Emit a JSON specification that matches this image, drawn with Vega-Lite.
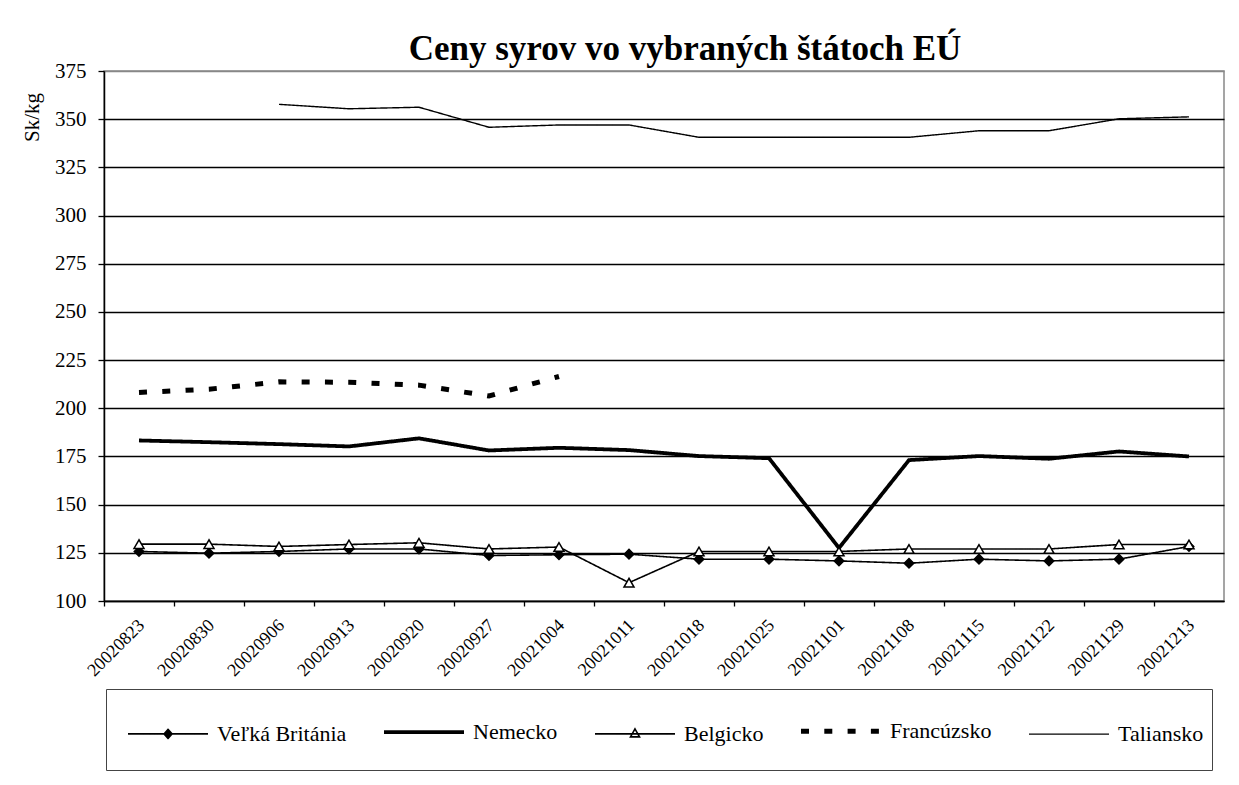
{
  "$schema": "https://vega.github.io/schema/vega-lite/v6.json",
  "width": 1120,
  "height": 530,
  "autosize": {"type": "none"},
  "padding": {"left": 104, "top": 71, "right": 15, "bottom": 184},
  "background": "white",
  "title": {
    "text": "Ceny syrov vo vybraných štátoch EÚ",
    "font": "Liberation Serif",
    "fontSize": 35,
    "fontWeight": "bold",
    "color": "black",
    "anchor": "middle",
    "frame": "group",
    "offset": 14,
    "baseline": "alphabetic",
    "dx": 21,
    "dy": 49
  },
  "data": {
    "values": [
      {"date": "20020823", "country": "Veľká Británia", "price": 125.7},
      {"date": "20020830", "country": "Veľká Británia", "price": 124.8},
      {"date": "20020906", "country": "Veľká Británia", "price": 125.7},
      {"date": "20020913", "country": "Veľká Británia", "price": 127},
      {"date": "20020920", "country": "Veľká Británia", "price": 127},
      {"date": "20020927", "country": "Veľká Británia", "price": 123.6},
      {"date": "20021004", "country": "Veľká Británia", "price": 124},
      {"date": "20021011", "country": "Veľká Británia", "price": 124.3},
      {"date": "20021018", "country": "Veľká Británia", "price": 121.7},
      {"date": "20021025", "country": "Veľká Británia", "price": 121.7},
      {"date": "20021101", "country": "Veľká Británia", "price": 120.8},
      {"date": "20021108", "country": "Veľká Británia", "price": 119.6},
      {"date": "20021115", "country": "Veľká Británia", "price": 121.7},
      {"date": "20021122", "country": "Veľká Británia", "price": 120.8},
      {"date": "20021129", "country": "Veľká Británia", "price": 121.7},
      {"date": "20021213", "country": "Veľká Británia", "price": 128.3},
      {"date": "20020823", "country": "Nemecko", "price": 183.3},
      {"date": "20020830", "country": "Nemecko", "price": 182.4},
      {"date": "20020906", "country": "Nemecko", "price": 181.4},
      {"date": "20020913", "country": "Nemecko", "price": 180.2},
      {"date": "20020920", "country": "Nemecko", "price": 184.4},
      {"date": "20020927", "country": "Nemecko", "price": 178.1},
      {"date": "20021004", "country": "Nemecko", "price": 179.5},
      {"date": "20021011", "country": "Nemecko", "price": 178.3},
      {"date": "20021018", "country": "Nemecko", "price": 175.2},
      {"date": "20021025", "country": "Nemecko", "price": 174.1},
      {"date": "20021101", "country": "Nemecko", "price": 127.5},
      {"date": "20021108", "country": "Nemecko", "price": 173.1},
      {"date": "20021115", "country": "Nemecko", "price": 175.2},
      {"date": "20021122", "country": "Nemecko", "price": 173.8},
      {"date": "20021129", "country": "Nemecko", "price": 177.6},
      {"date": "20021213", "country": "Nemecko", "price": 175},
      {"date": "20020823", "country": "Belgicko", "price": 129.5},
      {"date": "20020830", "country": "Belgicko", "price": 129.5},
      {"date": "20020906", "country": "Belgicko", "price": 128.3},
      {"date": "20020913", "country": "Belgicko", "price": 129.3},
      {"date": "20020920", "country": "Belgicko", "price": 130.2},
      {"date": "20020927", "country": "Belgicko", "price": 127},
      {"date": "20021004", "country": "Belgicko", "price": 128},
      {"date": "20021011", "country": "Belgicko", "price": 109.5},
      {"date": "20021018", "country": "Belgicko", "price": 125.7},
      {"date": "20021025", "country": "Belgicko", "price": 125.7},
      {"date": "20021101", "country": "Belgicko", "price": 125.7},
      {"date": "20021108", "country": "Belgicko", "price": 127},
      {"date": "20021115", "country": "Belgicko", "price": 127},
      {"date": "20021122", "country": "Belgicko", "price": 127},
      {"date": "20021129", "country": "Belgicko", "price": 129.3},
      {"date": "20021213", "country": "Belgicko", "price": 129.3},
      {"date": "20020823", "country": "Francúzsko", "price": 208.2},
      {"date": "20020830", "country": "Francúzsko", "price": 209.9},
      {"date": "20020906", "country": "Francúzsko", "price": 213.7},
      {"date": "20020913", "country": "Francúzsko", "price": 213.5},
      {"date": "20020920", "country": "Francúzsko", "price": 212},
      {"date": "20020927", "country": "Francúzsko", "price": 206.4},
      {"date": "20021004", "country": "Francúzsko", "price": 216.5},
      {"date": "20020906", "country": "Taliansko", "price": 357.7},
      {"date": "20020913", "country": "Taliansko", "price": 355.4},
      {"date": "20020920", "country": "Taliansko", "price": 356.2},
      {"date": "20020927", "country": "Taliansko", "price": 345.8},
      {"date": "20021004", "country": "Taliansko", "price": 347},
      {"date": "20021011", "country": "Taliansko", "price": 347},
      {"date": "20021018", "country": "Taliansko", "price": 340.6},
      {"date": "20021025", "country": "Taliansko", "price": 340.6},
      {"date": "20021101", "country": "Taliansko", "price": 340.6},
      {"date": "20021108", "country": "Taliansko", "price": 340.6},
      {"date": "20021115", "country": "Taliansko", "price": 344},
      {"date": "20021122", "country": "Taliansko", "price": 344},
      {"date": "20021129", "country": "Taliansko", "price": 350.2},
      {"date": "20021213", "country": "Taliansko", "price": 351.2}
    ]
  },
  "encoding": {
    "x": {
      "field": "date",
      "type": "nominal",
      "sort": null,
      "scale": {"type": "point", "padding": 0.5},
      "axis": {
        "title": null,
        "labelAngle": -45,
        "labelFont": "Liberation Serif",
        "labelFontSize": 18,
        "labelColor": "black",
        "labelPadding": 10,
        "tickOffset": -35,
        "labelOffset": 31,
        "tickSize": 5,
        "tickColor": "black",
        "tickWidth": 1.3,
        "domainColor": "black",
        "domainWidth": 1.5,
        "grid": false
      }
    },
    "y": {
      "field": "price",
      "type": "quantitative",
      "scale": {"domain": [100, 375], "nice": false, "zero": false},
      "axis": {
        "values": [100, 125, 150, 175, 200, 225, 250, 275, 300, 325, 350, 375],
        "title": "Sk/kg",
        "titleFont": "Liberation Serif",
        "titleFontSize": 21,
        "titleFontWeight": "normal",
        "titleColor": "black",
        "titleX": -72,
        "titleY": 46,
        "titleAngle": -90,
        "titleAlign": "center",
        "titleBaseline": "middle",
        "labelFont": "Liberation Serif",
        "labelFontSize": 21,
        "labelColor": "black",
        "labelPadding": 12,
        "tickSize": 6,
        "tickColor": "black",
        "tickWidth": 1.3,
        "domainColor": "black",
        "domainWidth": 1.5,
        "grid": true,
        "gridColor": {"condition": {"test": "datum.value === 375", "value": "#888888"}, "value": "black"},
        "gridWidth": 1.4,
        "gridOpacity": 1
      }
    }
  },
  "layer": [
    {
      "mark": {"type": "line", "stroke": "black", "strokeCap": "butt"},
      "encoding": {
        "strokeDash": {
          "field": "country",
          "type": "nominal",
          "scale": {
            "domain": ["Veľká Británia", "Nemecko", "Belgicko", "Francúzsko", "Taliansko"],
            "range": [[1, 0], [1, 0], [1, 0], [8, 15.3], [1, 0]]
          },
          "legend": null
        },
        "strokeWidth": {
          "field": "country",
          "type": "nominal",
          "scale": {
            "type": "ordinal",
            "domain": ["Veľká Británia", "Nemecko", "Belgicko", "Francúzsko", "Taliansko"],
            "range": [1.6, 3.8, 1.6, 5, 1.4]
          },
          "legend": null
        }
      }
    },
    {
      "transform": [{"filter": {"field": "country", "oneOf": ["Veľká Británia", "Belgicko"]}}],
      "mark": {"type": "point", "filled": true, "stroke": "black", "strokeWidth": 1.5, "opacity": 1},
      "encoding": {
        "shape": {
          "field": "country",
          "type": "nominal",
          "scale": {"domain": ["Veľká Británia", "Belgicko"], "range": ["diamond", "triangle-up"]},
          "legend": null
        },
        "fill": {
          "field": "country",
          "type": "nominal",
          "scale": {"domain": ["Veľká Británia", "Belgicko"], "range": ["black", "white"]},
          "legend": null
        },
        "size": {
          "field": "country",
          "type": "nominal",
          "scale": {"type": "ordinal", "domain": ["Veľká Británia", "Belgicko"], "range": [90, 100]},
          "legend": null
        }
      }
    },
    {
      "mark": {"type": "point", "filled": false, "stroke": "black", "color": "black", "opacity": 0},
      "encoding": {
        "shape": {
          "field": "country",
          "type": "nominal",
          "scale": {
            "domain": ["Veľká Británia", "Nemecko", "Belgicko", "Francúzsko", "Taliansko"],
            "range": [
              "M-0.635,0H1.905M0.635,-0.143L0.762,0L0.635,0.143L0.508,0ZM0.635,0.65",
              "M-0.635,0H1.905M0.635,0.65",
              "M-0.635,0H1.905M0.635,-0.159L0.778,0.095L0.492,0.095ZM0.635,0.65",
              "M-0.635,0H1.905M0.635,0.65",
              "M-0.635,0H1.905M0.635,0.65"
            ]
          },
          "legend": {
            "orient": "none", "legendX": 2, "legendY": 618, "direction": "horizontal", "columns": 5,
            "title": null, "symbolSize": 3969, "symbolOpacity": 1,
            "labelFont": "Liberation Serif", "labelFontSize": 22, "labelColor": "black",
            "labelOffset": 35, "labelLimit": 0, "columnPadding": 23, "padding": 8,
            "strokeColor": "#444444", "fillColor": "white"
          }
        },
        "fill": {
          "field": "country",
          "type": "nominal",
          "scale": {
            "domain": ["Veľká Británia", "Nemecko", "Belgicko", "Francúzsko", "Taliansko"],
            "range": ["black", "transparent", "white", "transparent", "transparent"]
          },
          "legend": {
            "orient": "none", "legendX": 2, "legendY": 618, "direction": "horizontal", "columns": 5,
            "title": null, "symbolSize": 3969, "symbolOpacity": 1,
            "labelFont": "Liberation Serif", "labelFontSize": 22, "labelColor": "black",
            "labelOffset": 35, "labelLimit": 0, "columnPadding": 23, "padding": 8,
            "strokeColor": "#444444", "fillColor": "white"
          }
        },
        "strokeDash": {
          "field": "country",
          "type": "nominal",
          "scale": {
            "domain": ["Veľká Británia", "Nemecko", "Belgicko", "Francúzsko", "Taliansko"],
            "range": [[1, 0], [1, 0], [1, 0], [8, 15.3], [1, 0]]
          },
          "legend": {
            "orient": "none", "legendX": 2, "legendY": 618, "direction": "horizontal", "columns": 5,
            "title": null, "symbolSize": 3969, "symbolOpacity": 1,
            "labelFont": "Liberation Serif", "labelFontSize": 22, "labelColor": "black",
            "labelOffset": 35, "labelLimit": 0, "columnPadding": 23, "padding": 8,
            "strokeColor": "#444444", "fillColor": "white"
          }
        },
        "strokeWidth": {
          "field": "country",
          "type": "nominal",
          "scale": {
            "type": "ordinal",
            "domain": ["Veľká Británia", "Nemecko", "Belgicko", "Francúzsko", "Taliansko"],
            "range": [1.6, 3.8, 1.6, 5, 1.4]
          },
          "legend": {
            "orient": "none", "legendX": 2, "legendY": 618, "direction": "horizontal", "columns": 5,
            "title": null, "symbolSize": 3969, "symbolOpacity": 1,
            "labelFont": "Liberation Serif", "labelFontSize": 22, "labelColor": "black",
            "labelOffset": 35, "labelLimit": 0, "columnPadding": 23, "padding": 8,
            "strokeColor": "#444444", "fillColor": "white"
          }
        }
      }
    }
  ],
  "resolve": {
    "scale": {"strokeDash": "independent", "strokeWidth": "independent", "shape": "independent", "fill": "independent", "size": "independent"}
  },
  "config": {
    "view": {"stroke": "#888888", "strokeWidth": 1.5},
    "font": "Liberation Serif"
  }
}
